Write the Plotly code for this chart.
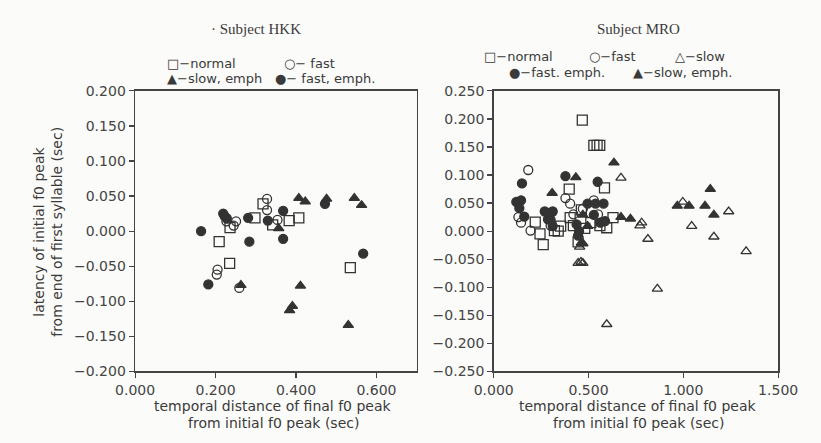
import plotly.graph_objects as go

# ---------------- Subject HKK (left panel) ----------------
hkk_normal_x = [0.209, 0.235, 0.236, 0.298, 0.318, 0.342, 0.383, 0.407, 0.535]
hkk_normal_y = [-0.015, -0.046, 0.005, 0.019, 0.039, 0.009, 0.015, 0.019, -0.052]

hkk_fast_x = [0.227, 0.251, 0.245, 0.205, 0.203, 0.328, 0.328, 0.354, 0.259]
hkk_fast_y = [0.014, 0.014, 0.008, -0.055, -0.062, 0.046, 0.030, 0.016, -0.081]

hkk_slowemph_x = [0.357, 0.407, 0.423, 0.476, 0.545, 0.563, 0.263, 0.411, 0.384, 0.391, 0.530]
hkk_slowemph_y = [0.004, 0.047, 0.042, 0.046, 0.047, 0.037, -0.077, -0.078, -0.113, -0.107, -0.134]

hkk_fastemph_x = [0.164, 0.219, 0.223, 0.228, 0.281, 0.284, 0.330, 0.368, 0.368, 0.472, 0.567, 0.182]
hkk_fastemph_y = [0.000, 0.025, 0.021, 0.018, 0.019, -0.015, 0.015, 0.029, -0.011, 0.039, -0.032, -0.076]

# ---------------- Subject MRO (right panel) ----------------
mro_normal_x = [0.467, 0.528, 0.545, 0.559, 0.398, 0.584, 0.219, 0.244, 0.261, 0.320, 0.353,
                0.403, 0.462, 0.512, 0.596, 0.629, 0.445, 0.340, 0.420, 0.480, 0.560]
mro_normal_y = [0.198, 0.153, 0.153, 0.153, 0.075, 0.077, 0.016, -0.005, -0.024, 0.001, 0.009,
                0.024, 0.038, 0.015, 0.006, 0.024, -0.019, 0.000, 0.010, 0.005, 0.010]

mro_fast_x = [0.182, 0.378, 0.403, 0.144, 0.194, 0.528, 0.130, 0.470, 0.420, 0.550, 0.300]
mro_fast_y = [0.109, 0.059, 0.049, 0.015, 0.001, 0.055, 0.025, 0.040, 0.030, 0.030, 0.010]

mro_slow_x = [0.671, 0.997, 1.239, 1.044, 1.161, 1.331, 0.780, 0.771, 0.813, 0.453, 0.445,
              0.470, 0.863, 0.596, 0.460]
mro_slow_y = [0.095, 0.052, 0.035, 0.009, -0.010, -0.036, 0.015, 0.010, -0.014, -0.028, -0.057,
              -0.057, -0.103, -0.166, -0.055]

mro_fastemph_x = [0.378, 0.149, 0.548, 0.119, 0.144, 0.135, 0.161, 0.269, 0.311, 0.286, 0.311,
                  0.437, 0.445, 0.495, 0.537, 0.579, 0.528, 0.562, 0.587, 0.300, 0.450]
mro_fastemph_y = [0.098, 0.085, 0.088, 0.052, 0.055, 0.041, 0.026, 0.035, 0.035, 0.021, 0.009,
                  0.012, -0.008, 0.049, 0.049, 0.049, 0.029, 0.015, 0.018, 0.020, 0.000]

mro_slowemph_x = [0.634, 0.433, 0.308, 1.142, 0.968, 1.030, 1.114, 1.161, 0.671, 0.721, 0.470,
                  0.495, 0.470, 0.462]
mro_slowemph_y = [0.122, 0.096, 0.068, 0.075, 0.045, 0.045, 0.045, 0.029, 0.025, 0.022, 0.029,
                  0.009, -0.022, -0.021]

left_yticks = [-0.200, -0.150, -0.100, -0.050, 0.000, 0.050, 0.100, 0.150, 0.200]
right_yticks = [-0.250, -0.200, -0.150, -0.100, -0.050, 0.000, 0.050, 0.100, 0.150, 0.200, 0.250]
left_xticks = [0.0, 0.2, 0.4, 0.6]
right_xticks = [0.0, 0.5, 1.0, 1.5]

INK = "#333333"
W, H = 821, 443

fig = go.Figure()

def add(x, y, symbol, size, xa, ya):
    fig.add_trace(go.Scatter(
        x=x, y=y, mode="markers", xaxis=xa, yaxis=ya, showlegend=False,
        hoverinfo="skip",
        marker=dict(symbol=symbol, size=size, color=INK,
                    line=dict(color=INK, width=1.3))))

add(hkk_normal_x, hkk_normal_y, "square-open", 10, "x", "y")
add(hkk_fast_x, hkk_fast_y, "circle-open", 9, "x", "y")
add(hkk_slowemph_x, hkk_slowemph_y, "triangle-up", 9, "x", "y")
add(hkk_fastemph_x, hkk_fastemph_y, "circle", 9, "x", "y")

add(mro_normal_x, mro_normal_y, "square-open", 10, "x2", "y2")
add(mro_fast_x, mro_fast_y, "circle-open", 9, "x2", "y2")
add(mro_slow_x, mro_slow_y, "triangle-up-open", 9, "x2", "y2")
add(mro_fastemph_x, mro_fastemph_y, "circle", 9, "x2", "y2")
add(mro_slowemph_x, mro_slowemph_y, "triangle-up", 9, "x2", "y2")

def px(v):
    return v / W

def py(v):
    return 1 - v / H

ydom = [py(377), py(86)]
tickfont = dict(family="DejaVu Sans", size=14, color="#444444")
axis_common = dict(showline=True, linecolor="#444444", linewidth=1.5, mirror=True,
                   ticks="outside", ticklen=5, tickcolor="#444444", tickwidth=1.2,
                   showgrid=False, zeroline=False, tickfont=tickfont, tickformat=".3f")

fig.update_layout(
    width=W, height=H, margin=dict(l=0, r=0, t=0, b=0),
    paper_bgcolor="#fbfbf9", plot_bgcolor="#fbfbf9",
    xaxis=dict(domain=[px(121), px(417)], range=[0, 0.7], tickvals=left_xticks,
               anchor="y", **axis_common),
    yaxis=dict(domain=ydom, range=[-0.2, 0.2], tickvals=left_yticks, anchor="x", **axis_common),
    xaxis2=dict(domain=[px(498), px(797)], range=[0, 1.5], tickvals=right_xticks,
                anchor="y2", **axis_common),
    yaxis2=dict(domain=ydom, range=[-0.25, 0.25], tickvals=right_yticks, anchor="x2", **axis_common),
)

def note(text, x, y, size=14, family="DejaVu Sans", angle=0, xanchor="center"):
    fig.add_annotation(text=text, x=px(x), y=py(y), xref="paper", yref="paper",
                       showarrow=False, textangle=angle, xanchor=xanchor, yanchor="middle",
                       borderpad=0,
                       font=dict(family=family, size=size, color="#3a3a3a"))

# titles
note("· Subject HKK", 248, 22, size=15, family="Liberation Serif")
note("Subject MRO", 650, 22, size=15, family="Liberation Serif")

# legend texts (left)
note("□−normal", 153, 58, size=13, xanchor="left")
note("○− fast", 276, 58, size=13, xanchor="left")
note("▲−slow, emph", 153, 73, size=13, xanchor="left")
note("●− fast, emph.", 267, 73, size=13, xanchor="left")
# legend texts (right)
note("□−normal", 487, 50, size=13, xanchor="left")
note("○−fast", 597, 50, size=13, xanchor="left")
note("△−slow", 687, 50, size=13, xanchor="left")
note("●−fast. emph.", 513, 67, size=13, xanchor="left")
note("▲−slow, emph.", 643, 67, size=13, xanchor="left")

# axis titles
note("latency of initial f0 peak", 20, 232, size=14, angle=-90)
note("from end of first syllable (sec)", 38, 232, size=14, angle=-90)
note("temporal distance of final f0 peak", 266, 413, size=14)
note("from initial f0 peak (sec)", 266, 431, size=14)
note("temporal distance of final f0 peak", 650, 413, size=14)
note("from initial f0 peak (sec)", 650, 431, size=14)

# remove the default 8px page margin so the 821x443 figure fills the window exactly
fig.write_html("out.html", config={"displayModeBar": False, "staticPlot": True},
               post_script="document.body.style.margin='0';")
